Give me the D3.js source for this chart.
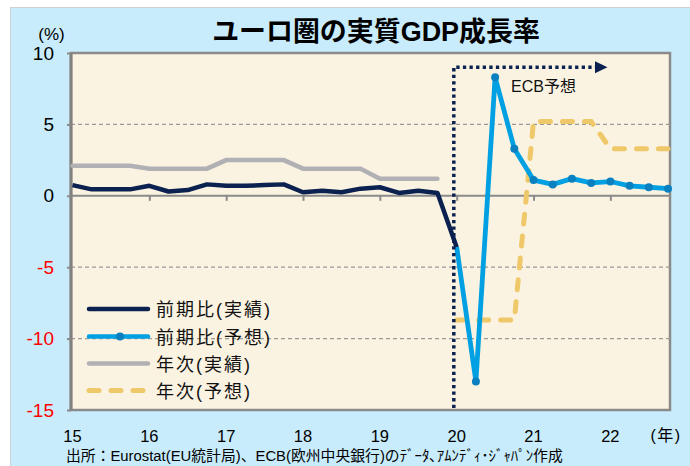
<!DOCTYPE html>
<html>
<head>
<meta charset="utf-8">
<script src="https://cdn.jsdelivr.net/npm/d3@7"></script>
<style>
  body { margin: 0; background: #fff; }
  svg text { font-family: "Liberation Sans", "Noto Sans CJK JP", sans-serif; }
</style>
</head>
<body>
<div id="chart"></div>
<script>
// 四半期 (2015Q1 - 2022Q4)
var quarters = ['15Q1','15Q2','15Q3','15Q4','16Q1','16Q2','16Q3','16Q4',
                '17Q1','17Q2','17Q3','17Q4','18Q1','18Q2','18Q3','18Q4',
                '19Q1','19Q2','19Q3','19Q4','20Q1','20Q2','20Q3','20Q4',
                '21Q1','21Q2','21Q3','21Q4','22Q1','22Q2','22Q3','22Q4'];
var yearLabels = ['15','16','17','18','19','20','21','22'];
var yTicks = [10, 5, 0, -5, -10, -15];

// 前期比(実績)
var qoqActual = [0.75,0.45,0.45,0.45, 0.7,0.3,0.4,0.8, 0.7,0.7,0.75,0.8,
                 0.25,0.35,0.25,0.5, 0.6,0.2,0.35,0.2, -3.6,null,null,null,
                 null,null,null,null, null,null,null,null];
// 前期比(予想)
var qoqForecast = [null,null,null,null, null,null,null,null, null,null,null,null,
                   null,null,null,null, null,null,null,null, -3.6,-13.0,8.3,3.3,
                   1.1,0.8,1.2,0.9, 1.0,0.7,0.6,0.5];
// 年次(実績)
var annualActual = [2.1,2.1,2.1,2.1, 1.9,1.9,1.9,1.9, 2.5,2.5,2.5,2.5,
                    1.9,1.9,1.9,1.9, 1.2,1.2,1.2,1.2, null,null,null,null,
                    null,null,null,null, null,null,null,null];
// 年次(予想)
var annualForecast = [null,null,null,null, null,null,null,null, null,null,null,null,
                      null,null,null,null, null,null,null,null, -8.7,-8.7,-8.7,-8.7,
                      5.2,5.2,5.2,5.2, 3.3,3.3,3.3,3.3];

var legendNames = ['前期比(実績)', '前期比(予想)', '年次(実績)', '年次(予想)'];

var width = 690, height = 466;
var plot = { left: 71, right: 670, top: 53, bottom: 410 };

var navy = '#0b2150', blue = '#00a0e2', dotBlue = '#0a80c0', grey = '#b1b1b5', yellow = '#efc86a';

var svg = d3.select('#chart').append('svg')
    .attr('width', width)
    .attr('height', height);

// 背景
svg.append('rect')
    .attr('x', 10.5).attr('y', 7.5)
    .attr('width', width).attr('height', height)
    .attr('fill', '#c8ecfc')
    .attr('stroke', '#d0d0d0');

svg.append('rect')
    .attr('x', plot.left).attr('y', plot.top)
    .attr('width', plot.right - plot.left).attr('height', plot.bottom - plot.top)
    .attr('fill', '#fbf3e1')
    .attr('stroke', '#8a8a8a')
    .attr('stroke-width', 2.5);

// スケール
var x = d3.scaleLinear()
    .domain([0, quarters.length - 1])
    .range([72.5, 668]);

var y = d3.scaleLinear()
    .domain([-15, 10])
    .range([plot.bottom, plot.top]);

// グリッド
svg.append('g')
    .selectAll('line')
    .data(yTicks.filter(d => d !== 0 && d !== 10 && d !== -15))
    .enter().append('line')
    .attr('x1', plot.left).attr('x2', plot.right)
    .attr('y1', d => y(d)).attr('y2', d => y(d))
    .attr('stroke', '#9a9a9a')
    .attr('stroke-width', 1.3)
    .attr('stroke-dasharray', '4,3');

// ゼロ線 + 目盛
var xAxis = svg.append('g')
    .attr('transform', 'translate(0,' + y(0) + ')')
    .call(d3.axisBottom(x).tickValues([4, 8, 12, 16, 20, 24, 28]).tickSize(5).tickFormat(''));
xAxis.select('.domain').attr('stroke', '#8a8a8a').attr('stroke-width', 2)
    .attr('d', 'M' + plot.left + ',0H' + plot.right);
xAxis.selectAll('.tick line').attr('stroke', '#8a8a8a').attr('stroke-width', 2);

// Y軸
var yAxis = svg.append('g')
    .attr('transform', 'translate(' + plot.left + ',0)')
    .call(d3.axisLeft(y).tickValues(yTicks).tickSize(4).tickPadding(13).tickFormat(d => String(d)));
yAxis.select('.domain').attr('stroke', '#808080').attr('stroke-width', 3)
    .attr('d', 'M0,' + plot.top + 'V' + plot.bottom);
yAxis.selectAll('.tick line').attr('stroke', '#8a8a8a').attr('stroke-width', 2);
yAxis.selectAll('.tick text')
    .attr('font-size', 19)
    .attr('font-family', '"Liberation Sans", sans-serif')
    .attr('fill', d => d < 0 ? '#ff0000' : '#000');

// X軸ラベル
svg.append('g')
    .selectAll('text')
    .data(yearLabels)
    .enter().append('text')
    .attr('x', (d, i) => x(i * 4))
    .attr('y', 441.5)
    .attr('text-anchor', 'middle')
    .attr('font-size', 16.5)
    .attr('fill', '#000')
    .text(d => d);

svg.append('text')
    .attr('x', 666).attr('y', 441)
    .attr('text-anchor', 'middle')
    .attr('font-size', 16)
    .attr('letter-spacing', 1.5)
    .text('(年)');

svg.append('text')
    .attr('x', 51.5).attr('y', 40)
    .attr('text-anchor', 'middle')
    .attr('font-size', 17)
    .text('(%)');

// 線
function lineOf(vals) {
    return d3.line()
        .defined(d => d != null)
        .x((d, i) => x(i))
        .y(d => y(d))(vals);
}

svg.append('path')
    .attr('d', lineOf(annualActual))
    .attr('fill', 'none').attr('stroke', grey).attr('stroke-width', 4.5)
    .attr('stroke-linecap', 'round');

svg.append('path')
    .attr('d', lineOf(annualForecast))
    .attr('fill', 'none').attr('stroke', yellow).attr('stroke-width', 5)
    .attr('stroke-linecap', 'round')
    .attr('stroke-dasharray', '10,12');

svg.append('path')
    .attr('d', lineOf(qoqActual))
    .attr('fill', 'none').attr('stroke', navy).attr('stroke-width', 4.5)
    .attr('stroke-linejoin', 'round');

svg.append('path')
    .attr('d', lineOf(qoqForecast))
    .attr('fill', 'none').attr('stroke', blue).attr('stroke-width', 4.8)
    .attr('stroke-linejoin', 'round');

svg.append('g')
    .selectAll('circle')
    .data(qoqForecast.map((v, i) => ({ v: v, i: i })).filter(d => d.v != null && d.i > 20))
    .enter().append('circle')
    .attr('cx', d => x(d.i))
    .attr('cy', d => y(d.v))
    .attr('r', 4)
    .attr('fill', dotBlue);

// ECB予想 矢印
var fStart = 19.85, fEnd = 27.2, fTip = 27.85, fTop = 9;
svg.append('path')
    .attr('d', 'M' + x(fStart) + ',' + (plot.bottom - 2) + 'V' + y(fTop) + 'H' + x(fEnd))
    .attr('fill', 'none').attr('stroke', navy).attr('stroke-width', 3.5)
    .attr('stroke-dasharray', '3.3,3.3');
svg.append('path')
    .attr('d', 'M' + x(fEnd) + ',' + (y(fTop) - 6) + 'L' + x(fTip) + ',' + y(fTop) +
               'L' + x(fEnd) + ',' + (y(fTop) + 6) + 'Z')
    .attr('fill', navy);
svg.append('text')
    .attr('x', 511).attr('y', 92)
    .attr('font-size', 16)
    .attr('fill', '#111')
    .text('ECB予想');

// 凡例
var legend = svg.append('g');
var rowY = [309, 336.5, 363.5, 390.5];
var styles = [
    { c: navy, dash: null, w: 4.5 },
    { c: blue, dash: null, w: 4.5 },
    { c: grey, dash: null, w: 4.5 },
    { c: yellow, dash: '10,12', w: 5 }
];
legendNames.forEach(function (name, i) {
    legend.append('line')
        .attr('x1', 89).attr('x2', 148)
        .attr('y1', rowY[i]).attr('y2', rowY[i])
        .attr('stroke', styles[i].c)
        .attr('stroke-width', styles[i].w)
        .attr('stroke-linecap', 'round')
        .attr('stroke-dasharray', styles[i].dash);
    if (i === 1) {
        legend.append('circle').attr('cx', 120).attr('cy', rowY[i]).attr('r', 4).attr('fill', dotBlue);
    }
    legend.append('text')
        .attr('x', 156).attr('y', rowY[i] + 7)
        .attr('font-size', 18)
        .attr('letter-spacing', 2)
        .attr('font-family', '"Noto Sans CJK JP", sans-serif')
        .attr('fill', '#111')
        .text(name);
});

// タイトル
var title = svg.append('text')
    .attr('x', 376).attr('y', 41)
    .attr('text-anchor', 'middle')
    .attr('font-size', 26)
    .attr('font-weight', 'bold')
    .text('ユーロ圏の実質GDP成長率');
var tw = title.node().getComputedTextLength();
title.attr('font-size', 26 * 328 / tw);

// 出所
var src = svg.append('text')
    .attr('x', 66).attr('y', 461)
    .attr('font-size', 15)
    .attr('fill', '#000')
    .text('出所：Eurostat(EU統計局)、ECB(欧州中央銀行)のﾃﾞｰﾀ､ｱﾑﾝﾃﾞｨ･ｼﾞｬﾊﾟﾝ作成');
var sw = src.node().getComputedTextLength();
src.attr('font-size', 15 * 497 / sw);
</script>
</body>
</html>
